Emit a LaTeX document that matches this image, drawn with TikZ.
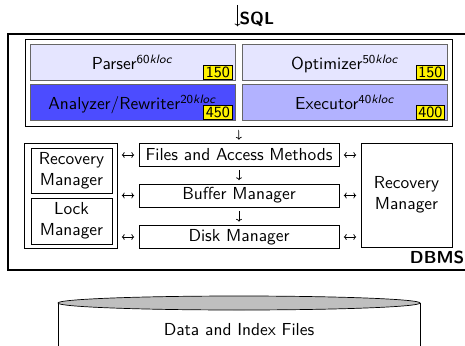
\documentclass[tikz,border=0pt]{standalone}
\usetikzlibrary{arrows.meta}
\renewcommand{\familydefault}{\sfdefault}
\newdimen\px
\px=0.575pt
\newcommand{\kloc}[1]{\textsuperscript{#1\textit{kloc}}}

\begin{document}
\begin{tikzpicture}[
    x=\px, y=-\px,
    >={To[length=1.6pt,width=3.4pt]},
    every node/.style={font=\sffamily, inner sep=0pt},
    outerbox/.style={draw, line width=0.8pt},
    groupbox/.style={draw},
    layer/.style={draw=black!60, text depth=0pt, minimum width=205\px, minimum height=36\px},
    badge/.style={draw, fill=yellow, font=\small\sffamily,
        inner xsep=1.2pt, inner ysep=0.8pt, anchor=south east},
    mgr/.style={draw, minimum width=200\px, minimum height=23\px},
    sidebox/.style={draw, align=center, minimum width=81\px},
    link/.style={<->, shorten <=4.5\px, shorten >=4.5\px},
    down/.style={->, shorten <=3.5\px, shorten >=3.5\px}]
    \useasboundingbox (0,0) rectangle (465,345);
    \clip (0,0) rectangle (465,345);

    \node[outerbox, minimum width=459\px, minimum height=236\px] (dbms) at (237.5,152) {};
    \node[anchor=south east, font=\sffamily\bfseries] (dbmslabel) at (464.5,264) {DBMS};
    \coordinate (sqltop) at (237.5,5);
    \draw[->, shorten >=7\px] (sqltop) -- node[right=1pt, font=\sffamily\bfseries] (sql) {SQL} (dbms.north);

    % query processing layers
    \node[groupbox, minimum width=427\px, minimum height=87\px] (qp) at (238.5,82.5) {};
    \node[layer, fill=blue!10] (parser) at (132.5,62) {Parser\kloc{60}};
    \node[layer, fill=blue!10] (optimizer) at (345,62) {Optimizer\kloc{50}};
    \node[layer, fill=blue!70] (analyzer) at (132.5,102) {Analyzer/Rewriter\kloc{20}};
    \node[layer, fill=blue!30] (executor) at (345,102) {Executor\kloc{40}};

    \node[badge] (parserbadge) at ([shift={(-3,-1)}]parser.south east) {150};
    \node[badge] (optimizerbadge) at ([shift={(-3,-1)}]optimizer.south east) {150};
    \node[badge] (analyzerbadge) at ([shift={(-3,-1)}]analyzer.south east) {450};
    \node[badge] (executorbadge) at ([shift={(-3,-1)}]executor.south east) {400};

    % storage layers
    \node[mgr] (files) at (239,155) {Files and Access Methods};
    \node[mgr] (buffer) at (239,195.5) {Buffer Manager};
    \node[mgr] (disk) at (239,237) {Disk Manager};

    \node[groupbox, minimum width=93\px, minimum height=105\px] (txn) at (70.5,195.5) {};
    \node[sidebox, minimum height=45\px] (recleft) at (71.5,170.5) {Recovery\\Manager};
    \node[sidebox, minimum height=46\px] (lock) at (71.5,221) {Lock\\Manager};
    \node[draw, align=center, minimum width=91\px, minimum height=104\px] (recright) at (406.5,195) {Recovery\\Manager};

    \draw[down] (qp.south) -- (files.north);
    \draw[down] (files) -- (buffer);
    \draw[down] (buffer) -- (disk);

    \draw[link] (txn.east |- files) -- (files.west);
    \draw[link] (txn.east |- buffer) -- (buffer.west);
    \draw[link] (txn.east |- disk) -- (disk.west);
    \draw[link] (files.east) -- (recright.west |- files);
    \draw[link] (buffer.east) -- (recright.west |- buffer);
    \draw[link] (disk.east) -- (recright.west |- disk);

    % disk cylinder
    \draw[fill=white] (58,303) -- (58,360) -- (420,360) -- (420,303);
    \draw[fill=black!25] (239,303) ellipse [x radius=181, y radius=7];
    \node (data) at (239,330) {Data and Index Files};
\end{tikzpicture}
\end{document}
